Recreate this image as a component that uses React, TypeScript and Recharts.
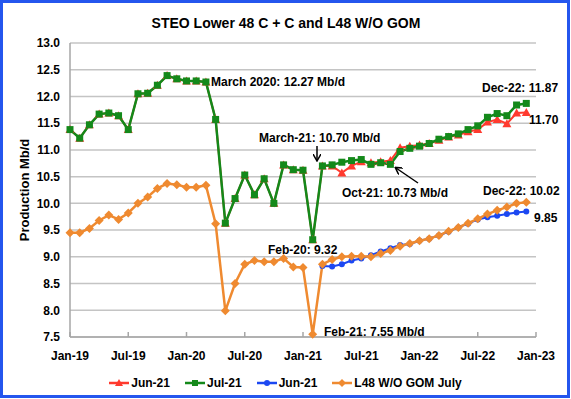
import { CartesianGrid, Line, LineChart, XAxis, YAxis } from "recharts";

// Month index 0 = Jan-19, 47 = Dec-22
const jun21Steo = [
  11.38, 11.22, 11.47, 11.67, 11.69, 11.64, 11.38, 12.05, 12.06, 12.21, 12.39, 12.33,
  12.29, 12.29, 12.27, 11.57, 9.63, 10.09, 10.53, 10.16, 10.46, 10.0, 10.72, 10.63,
  10.62, 9.32, 10.7, 10.7, 10.57, 10.7, 10.78, 10.76, 10.78, 10.8, 11.04, 11.07,
  11.09, 11.12, 11.18, 11.24, 11.28, 11.34, 11.38, 11.52, 11.57, 11.49, 11.69, 11.7,
];
const jul21Steo = [
  11.38, 11.22, 11.47, 11.67, 11.69, 11.64, 11.38, 12.05, 12.06, 12.21, 12.39, 12.33,
  12.29, 12.29, 12.27, 11.57, 9.63, 10.09, 10.53, 10.16, 10.46, 10.0, 10.72, 10.63,
  10.62, 9.32, 10.7, 10.72, 10.77, 10.8, 10.82, 10.73, 10.76, 10.73, 10.97, 11.03,
  11.07, 11.12, 11.2, 11.25, 11.3, 11.38, 11.45, 11.61, 11.68, 11.64, 11.84, 11.87,
];
// starts Mar-21
const jun21L48 = [
  8.83, 8.82, 8.86, 8.93, 8.97, 9.03, 9.1, 9.16, 9.22, 9.24,
  9.3, 9.34, 9.4, 9.47, 9.55, 9.62, 9.7, 9.74, 9.77, 9.8, 9.83, 9.85,
];
const jun21L48Start = 26;
const julL48 = [
  9.45, 9.45, 9.53, 9.68, 9.78, 9.7, 9.82, 10.0, 10.12, 10.28, 10.37, 10.35,
  10.3, 10.3, 10.34, 9.62, 7.99, 8.5, 8.86, 8.93, 8.91, 8.91, 8.97, 8.81,
  8.8, 7.55, 8.86, 8.95, 9.0, 9.01, 9.01, 9.0, 9.06, 9.12, 9.2, 9.25,
  9.3, 9.34, 9.4, 9.48, 9.55, 9.63, 9.71, 9.8, 9.87, 9.93, 10.0, 10.02,
];

const xTicks = [0, 6, 12, 18, 24, 30, 36, 42, 48];
const xTickLabels = ["Jan-19", "Jul-19", "Jan-20", "Jul-20", "Jan-21", "Jul-21", "Jan-22", "Jul-22", "Jan-23"];
const yTicks = [7.5, 8, 8.5, 9, 9.5, 10, 10.5, 11, 11.5, 12, 12.5, 13];

const RED = "#ff3a2e";
const GREEN = "#14891a";
const BLUE = "#1c48f2";
const ORANGE = "#ef8a30";
const FONT = "'Liberation Sans', Arial, sans-serif";

const data = jul21Steo.map((v, i) => ({
  m: i,
  jun21: jun21Steo[i],
  jul21: v,
  jun21L48: i >= jun21L48Start ? jun21L48[i - jun21L48Start] : null,
  julL48: julL48[i],
}));

type DotProps = { cx?: number; cy?: number; index?: number };

const triangle = ({ cx, cy, index }: DotProps) =>
  cx == null || cy == null ? (
    <g key={index} />
  ) : (
    <polygon key={index} points={`${cx},${cy - 4.5} ${cx - 4.5},${cy + 3.5} ${cx + 4.5},${cy + 3.5}`} fill={RED} />
  );
const square = ({ cx, cy, index }: DotProps) =>
  cx == null || cy == null ? <g key={index} /> : <rect key={index} x={cx - 3.5} y={cy - 3.5} width={7} height={7} fill={GREEN} />;
const circle = ({ cx, cy, index }: DotProps) =>
  cx == null || cy == null ? <g key={index} /> : <circle key={index} cx={cx} cy={cy} r={3} fill={BLUE} />;
const diamond = ({ cx, cy, index }: DotProps) =>
  cx == null || cy == null ? (
    <g key={index} />
  ) : (
    <polygon key={index} points={`${cx},${cy - 4.5} ${cx + 4.5},${cy} ${cx},${cy + 4.5} ${cx - 4.5},${cy}`} fill={ORANGE} />
  );

const MonthTick = ({ x, y, payload }: any) => (
  <g>
    <line x1={x} x2={x} y1={y} y2={y - 5} stroke="#a6a6a6" strokeWidth={1.5} />
    <text x={x} y={y + 23} textAnchor="middle" fontSize={12} fontWeight="bold" fill="#000" fontFamily={FONT}>
      {xTickLabels[xTicks.indexOf(payload.value)]}
    </text>
  </g>
);

const legendItems = [
  { name: "Jun-21", color: RED, shape: "tri" },
  { name: "Jul-21", color: GREEN, shape: "sq" },
  { name: "Jun-21", color: BLUE, shape: "dot" },
  { name: "L48 W/O GOM July", color: ORANGE, shape: "dia" },
];

const LegendIcon = ({ color, shape }: { color: string; shape: string }) => (
  <svg width={20} height={10} style={{ display: "block" }}>
    <line x1={0} x2={20} y1={5} y2={5} stroke={color} strokeWidth={2.5} />
    {shape === "tri" && <polygon points="10,1 6,8 14,8" fill={color} />}
    {shape === "sq" && <rect x={7} y={2} width={6} height={6} fill={color} />}
    {shape === "dot" && <circle cx={10} cy={5} r={3} fill={color} />}
    {shape === "dia" && <polygon points="10,1 14,5 10,9 6,5" fill={color} />}
  </svg>
);

const notes = [
  { text: "March 2020: 12.27 Mb/d", x: 211, y: 86 },
  { text: "March-21: 10.70 Mb/d", x: 259, y: 142 },
  { text: "Oct-21: 10.73 Mb/d", x: 342, y: 197 },
  { text: "Dec-22: 11.87", x: 482, y: 92 },
  { text: "11.70", x: 529, y: 124 },
  { text: "Dec-22: 10.02", x: 483, y: 195 },
  { text: "9.85", x: 534, y: 222 },
  { text: "Feb-20: 9.32", x: 268, y: 254 },
  { text: "Feb-21: 7.55 Mb/d", x: 324, y: 336 },
];

export default function App() {
  return (
    <div style={{ position: "absolute", left: 0, top: 0, width: 571, height: 399, background: "#fff", fontFamily: FONT }}>
      <LineChart width={571} height={399} data={data} margin={{ top: 43, right: 35, left: 10, bottom: 32 }}>
        <CartesianGrid vertical={false} stroke="#c4c4c4" strokeWidth={1.5} />
        <XAxis
          dataKey="m"
          type="number"
          domain={[0, 48]}
          ticks={xTicks}
          height={30}
          tickSize={0}
          tickMargin={0}
          tick={<MonthTick />}
          stroke="#a6a6a6"
          strokeWidth={1.5}
        />
        <YAxis
          domain={[7.5, 13]}
          ticks={yTicks}
          width={60}
          tickLine={false}
          tickSize={0}
          tickMargin={10}
          tickFormatter={(v: number) => v.toFixed(1)}
          tick={{ fontSize: 12, fontWeight: "bold", fill: "#000", fontFamily: FONT }}
          stroke="#a6a6a6"
          strokeWidth={1.5}
        />
        <Line dataKey="jun21" stroke={RED} strokeWidth={2} dot={triangle} isAnimationActive={false} />
        <Line dataKey="jul21" stroke={GREEN} strokeWidth={2.5} dot={square} isAnimationActive={false} />
        <Line dataKey="jun21L48" stroke={BLUE} strokeWidth={2} dot={circle} isAnimationActive={false} />
        <Line dataKey="julL48" stroke={ORANGE} strokeWidth={2.5} dot={diamond} isAnimationActive={false} />
      </LineChart>

      <svg width={571} height={399} style={{ position: "absolute", left: 0, top: 0, pointerEvents: "none" }}>
        <defs>
          <marker id="arrowHead" markerWidth={8} markerHeight={8} refX={6} refY={4} orient="auto" markerUnits="userSpaceOnUse">
            <path d="M0,0 L7,4 L0,8" fill="none" stroke="#000" strokeWidth={1.5} />
          </marker>
        </defs>
        <rect x={1.5} y={1.5} width={567} height={395} fill="none" stroke="#2456ee" strokeWidth={3} />
        <text x={286} y={28} textAnchor="middle" fontSize={14} fontWeight="bold" fontFamily={FONT}>
          STEO Lower 48 C + C and L48 W/O GOM
        </text>
        <text
          x={29}
          y={190}
          transform="rotate(-90 29 190)"
          textAnchor="middle"
          fontSize={13}
          fontWeight="bold"
          fontFamily={FONT}
        >
          Production Mb/d
        </text>
        {notes.map((n) => (
          <text key={n.text} x={n.x} y={n.y} fontSize={12} fontWeight="bold" fontFamily={FONT}>
            {n.text}
          </text>
        ))}
        <line x1={317} y1={146} x2={317} y2={160} stroke="#000" strokeWidth={1.5} markerEnd="url(#arrowHead)" />
        <line x1={418} y1={183} x2={396} y2={168} stroke="#000" strokeWidth={1.5} markerEnd="url(#arrowHead)" />
      </svg>

      <div
        style={{
          position: "absolute",
          left: 0,
          top: 376,
          width: 571,
          display: "flex",
          justifyContent: "center",
          alignItems: "center",
          gap: 15,
          fontSize: 12,
          fontWeight: "bold",
        }}
      >
        {legendItems.map((it, i) => (
          <div key={i} style={{ display: "flex", alignItems: "center", gap: 2 }}>
            <LegendIcon color={it.color} shape={it.shape} />
            <span>{it.name}</span>
          </div>
        ))}
      </div>
    </div>
  );
}
